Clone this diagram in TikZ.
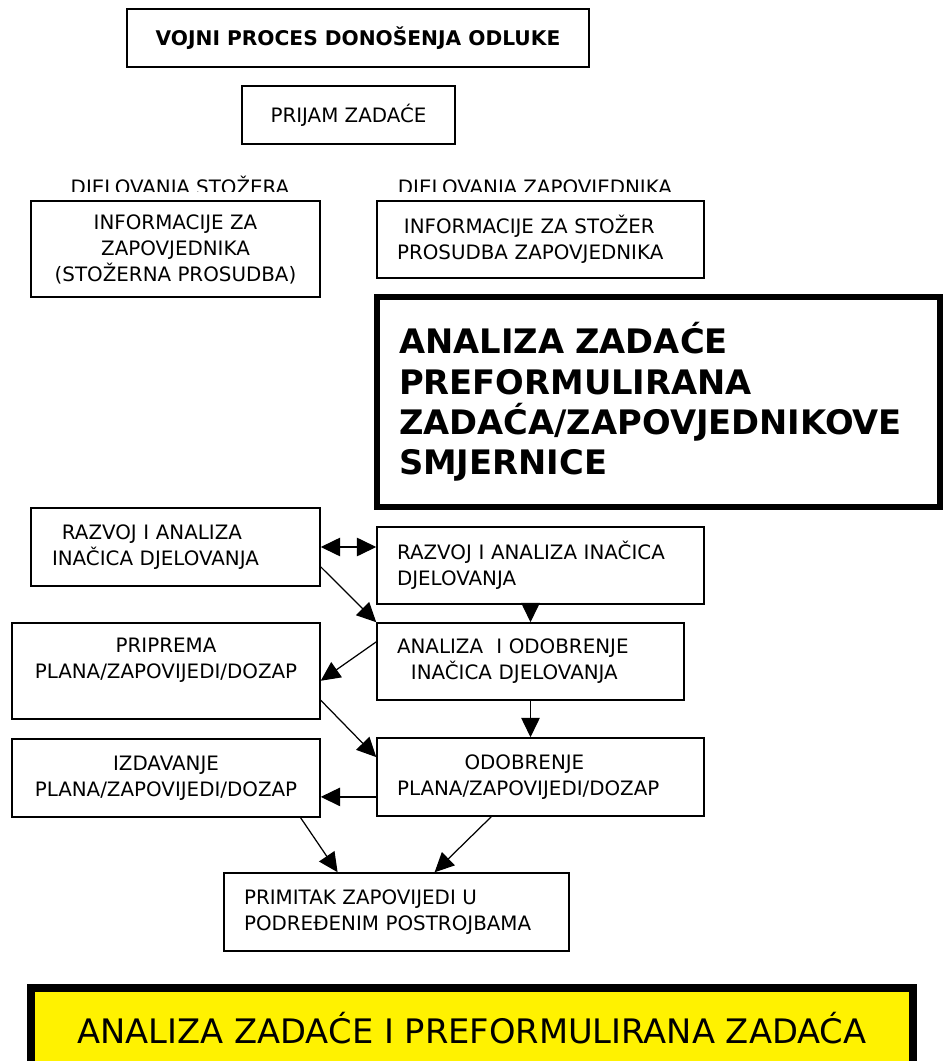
\documentclass[tikz,border=0pt]{standalone}
\usepackage{fontspec}
\setmainfont{DejaVu Sans}
\usetikzlibrary{arrows.meta,calc}

\begin{document}
\begin{tikzpicture}[
    x=0.02cm, y=-0.02cm,
    box/.style={rectangle, draw, line width=0.9pt, align=center, inner sep=0pt,
                font=\fontsize{11.3}{14.8}\selectfont},
    lbox/.style={box, align=left, inner xsep=0.4cm},
    lbl/.style={font=\fontsize{11.3}{14.8}\selectfont, inner sep=0pt, anchor=base},
    arr/.style={-{Triangle[length=11pt,width=10.5pt]}, line width=0.7pt},
    darr/.style={{Triangle[length=11pt,width=10.5pt]}-{Triangle[length=11pt,width=10.5pt]}, line width=0.7pt}
]
    \useasboundingbox (0,0) rectangle (943,1061);

    % Title
    \node[box, minimum width=9.24cm, minimum height=1.16cm, font=\fontsize{11.5}{14}\selectfont\bfseries] (title) at (358,38) {VOJNI PROCES DONOŠENJA ODLUKE};
    \node[box, minimum width=4.26cm, minimum height=1.16cm] (prijam) at (348.5,115) {PRIJAM ZADAĆE};

    % Column headings (cut off at the bottom)
    \begin{scope}
        \clip (0,0) rectangle (943,191);
        \node[lbl] (lblS) at (180,194) {DJELOVANJA STOŽERA};
        \node[lbl] (lblZ) at (535,194) {DJELOVANJA ZAPOVJEDNIKA};
    \end{scope}

    % Information boxes
    \node[box, minimum width=5.78cm, minimum height=1.92cm] (infoL) at (175.5,249) {INFORMACIJE ZA\\ZAPOVJEDNIKA\\(STOŽERNA PROSUDBA)};
    \node[lbox, text width=5.74cm, minimum width=6.54cm, minimum height=1.54cm] (infoR) at (540.5,239.5) {\hspace*{0.35em}INFORMACIJE ZA STOŽER\\PROSUDBA ZAPOVJEDNIKA};

    % Mission analysis
    \node[lbox, line width=3.4pt, inner xsep=0.44cm, text width=10.38cm, minimum width=11.26cm, minimum height=4.2cm,
          font=\fontsize{19.2}{23}\selectfont\bfseries] (analiza) at (658.5,402) {ANALIZA ZADAĆE\\PREFORMULIRANA\\ZADAĆA/ZAPOVJEDNIKOVE\\SMJERNICE};

    % Courses of action and orders
    \node[lbox, inner xsep=0.42cm, text width=4.94cm, minimum width=5.78cm, minimum height=1.56cm] (razL) at (175.5,547) {\hspace*{0.5em}RAZVOJ I ANALIZA\\INAČICA DJELOVANJA};
    \node[lbox, text width=5.74cm, minimum width=6.54cm, minimum height=1.54cm] (razR) at (540.5,565.5) {RAZVOJ I ANALIZA INAČICA\\DJELOVANJA};
    \node[box, minimum width=6.16cm, minimum height=1.92cm] (prip) at (166,671) {PRIPREMA\\PLANA/ZAPOVIJEDI/DOZAP\\~};
    \node[lbox, text width=5.34cm, minimum width=6.14cm, minimum height=1.54cm] (anOd) at (530.5,661.5) {ANALIZA\ \ I ODOBRENJE\\\hspace*{0.7em}INAČICA DJELOVANJA};
    \node[box, minimum width=6.16cm, minimum height=1.56cm] (izd) at (166,778) {IZDAVANJE\\PLANA/ZAPOVIJEDI/DOZAP};
    \node[lbox, text width=5.74cm, minimum width=6.54cm, minimum height=1.56cm] (odob) at (540.5,777) {\hspace*{3.4em}ODOBRENJE\\PLANA/ZAPOVIJEDI/DOZAP};
    \node[lbox, text width=6.1cm, minimum width=6.9cm, minimum height=1.56cm] (prim) at (396.5,912) {PRIMITAK ZAPOVIJEDI U\\PODREĐENIM POSTROJBAMA};

    % Summary
    \node[box, fill=yellow, line width=4.5pt, minimum width=17.64cm, minimum height=1.6cm,
          font=\fontsize{19.2}{23}\selectfont] (sazetak) at (472,1028) {ANALIZA ZADAĆE I PREFORMULIRANA ZADAĆA};

    % Arrows
    \coordinate (odobL) at ($(odob.west)!0.5!(odob.south west)$);
    \draw[darr] (razL.east) -- (razL.east -| razR.west);
    \draw[arr] ($(razL.east)!0.5!(razL.south east)$) -- (anOd.north west);
    \draw[arr] (razR.south -| anOd.north) -- (anOd.north);
    \draw[arr] ($(anOd.west)!0.5!(anOd.north west)$) -- ($(prip.east)!0.2!(prip.south east)$);
    \draw[arr] ($(prip.east)!0.6!(prip.south east)$) -- ($(odob.west)!0.5!(odob.north west)$);
    \draw[arr] (anOd.south) -- (anOd.south |- odob.north);
    \draw[arr] (odobL) -- (odobL -| izd.east);
    \draw[arr] ($(izd.south)!0.87!(izd.south east)$) -- ($(prim.north west)!0.33!(prim.north east)$);
    \draw[arr] ($(odob.south west)!0.35!(odob.south east)$) -- ($(prim.north west)!0.61!(prim.north east)$);
\end{tikzpicture}
\end{document}
